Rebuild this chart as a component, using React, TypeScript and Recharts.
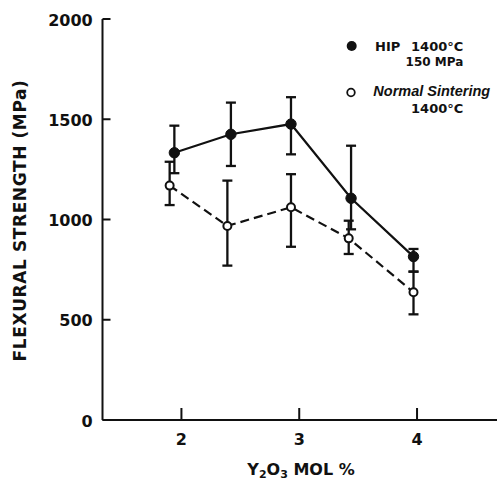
import React from "react";
import { ComposedChart, Line, XAxis, YAxis, ErrorBar, Legend } from "recharts";

// flexural strength vs Y2O3 content
const hipX = [1.94, 2.42, 2.93, 3.44, 3.97];
const hipStrength = [1333, 1425, 1476, 1106, 815];
const hipErrUp = [135, 158, 134, 262, 38];
const hipErrDown = [102, 158, 151, 155, 75];

const sinterX = [1.9, 2.39, 2.93, 3.42, 3.97];
const sinterStrength = [1169, 968, 1061, 906, 637];
const sinterErrUp = [119, 226, 165, 88, 103];
const sinterErrDown = [97, 198, 197, 78, 110];

const xTicks = [2, 3, 4];
const yTicks = [0, 500, 1000, 1500, 2000];
const sideTicks = [500, 1000, 1500];

const INK = "#111";
const FONT = "'DejaVu Sans', sans-serif";
const LEG_FONT = "'Liberation Sans', Arial, sans-serif";

const hipData = hipX.map((x, i) => ({ x, y: hipStrength[i], err: [hipErrDown[i], hipErrUp[i]] }));
const sinterData = sinterX.map((x, i) => ({ x, y: sinterStrength[i], err: [sinterErrDown[i], sinterErrUp[i]] }));

const tickStyle = { fill: INK, fontFamily: FONT, fontWeight: 700, fontSize: 16 };

function YLabel({ viewBox }: any) {
  const cx = viewBox.x + 20;
  const cy = viewBox.y + viewBox.height / 2 + 1;
  return (
    <text x={cx} y={cy} transform={`rotate(-90, ${cx}, ${cy})`} textAnchor="middle" dominantBaseline="central"
      fill={INK} fontFamily={FONT} fontWeight={700} fontSize={17} letterSpacing={0.6}>
      FLEXURAL STRENGTH (MPa)
    </text>
  );
}

function XLabel({ viewBox }: any) {
  const cx = viewBox.x + viewBox.width / 2;
  const by = viewBox.y + 54.5;
  return (
    <text x={cx} y={by} textAnchor="middle" fill={INK} fontFamily={FONT} fontWeight={700} fontSize={16}>
      <tspan>Y</tspan>
      <tspan fontSize={11} dy={3.5}>2</tspan>
      <tspan dy={-3.5}>O</tspan>
      <tspan fontSize={11} dy={3.5}>3</tspan>
      <tspan dy={-3.5}>{" MOL  %"}</tspan>
    </text>
  );
}

function LegendBox() {
  const t = { fill: INK, fontFamily: FONT, fontWeight: 700, fontSize: 13 } as const;
  return (
    <svg width={157} height={85} style={{ display: "block" }}>
      <circle cx={11.7} cy={10} r={5} fill={INK} />
      <text x={35} y={14.5} {...t}>HIP</text>
      <text x={123.3} y={14.5} textAnchor="end" {...t}>1400°C</text>
      <text x={123.3} y={30} textAnchor="end" {...t} fontSize={12}>150 MPa</text>
      <circle cx={11} cy={56.5} r={3.8} fill="#fff" stroke={INK} strokeWidth={1.8} />
      <text x={33.3} y={60} fontStyle="italic" {...t} fontFamily={LEG_FONT} fontSize={14.5}>Normal Sintering</text>
      <text x={123.3} y={76.5} textAnchor="end" {...t}>1400°C</text>
    </svg>
  );
}

export default function App() {
  return (
    <div style={{ position: "fixed", left: 0, top: 0, width: 497, height: 481, overflow: "hidden", background: "#fff" }}>
      <ComposedChart width={510} height={481} margin={{ top: 19, right: 0, bottom: 0, left: 0 }}>
        <XAxis type="number" dataKey="x" domain={[1.33, 4.7]} ticks={xTicks} allowDataOverflow
          height={61} tickSize={-12} tickMargin={25.6} tick={tickStyle}
          axisLine={{ stroke: INK, strokeWidth: 2 }} tickLine={{ stroke: INK, strokeWidth: 2 }}
          label={XLabel} />
        <XAxis xAxisId="top" orientation="top" type="number" domain={[1.33, 4.7]} allowDataOverflow
          height={0} tick={false} tickLine={false} axisLine={{ stroke: INK, strokeWidth: 2 }} />
        <YAxis type="number" domain={[0, 2000]} ticks={yTicks} width={102.5}
          tickSize={-8} tickMargin={17.8} tick={{ ...tickStyle, dy: 1 }}
          axisLine={{ stroke: INK, strokeWidth: 2 }} tickLine={{ stroke: INK, strokeWidth: 2 }}
          label={YLabel} />
        <YAxis yAxisId="right" orientation="right" type="number" domain={[0, 2000]} ticks={sideTicks} width={10.5}
          tickSize={-8} tick={false} axisLine={{ stroke: INK, strokeWidth: 2 }} tickLine={{ stroke: INK, strokeWidth: 2 }} />
        <Legend layout="vertical" align="center" verticalAlign="middle" content={LegendBox}
          wrapperStyle={{ left: 340, top: 36, width: 157, height: 85 }} />
        <Line data={sinterData} dataKey="y" name="Normal Sintering 1400°C" stroke={INK} strokeWidth={2.2}
          strokeDasharray="9 5" isAnimationActive={false}
          dot={{ r: 4, fill: "#fff", stroke: INK, strokeWidth: 2, strokeDasharray: "" }}>
          <ErrorBar dataKey="err" direction="y" width={5} stroke={INK} strokeWidth={2.3} />
        </Line>
        <Line data={hipData} dataKey="y" name="HIP 1400°C 150 MPa" stroke={INK} strokeWidth={2.2}
          isAnimationActive={false} dot={{ r: 5.2, fill: INK, stroke: INK, strokeWidth: 1 }}>
          <ErrorBar dataKey="err" direction="y" width={5} stroke={INK} strokeWidth={2.3} />
        </Line>
      </ComposedChart>
    </div>
  );
}
